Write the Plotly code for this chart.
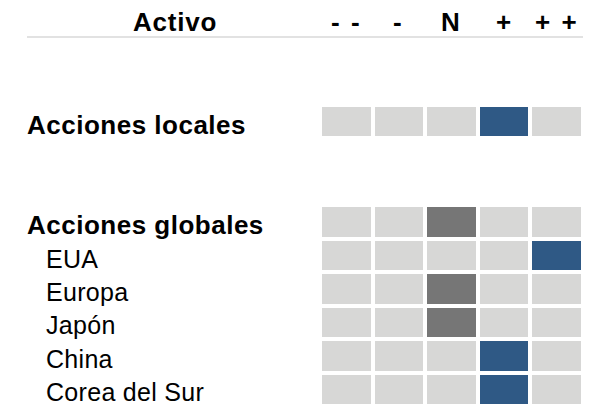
import plotly.graph_objects as go

# ---------------- data ----------------
columns = ["- -", "-", "N", "+", "+ +"]
column_views = [-2, -1, 0, 1, 2]
header_label = "Activo"
assets = ["Acciones locales", "Acciones globales", "EUA", "Europa", "Japón", "China", "Corea del Sur"]
asset_views = [1, 0, 2, 0, 0, 1, 1]          # -2 .. 2
is_group = [True, True, False, False, False, False, False]

# ---------------- styling ----------------
OFF = 8                      # page body margin of the html page
W, H = 595 - OFF, 406 - OFF
ML, MR, MT, MB = 320 - OFF, 12, 105 - OFF, 0
PW, PH = W - ML - MR, H - MT - MB
GREY, DARK, BLUE = "#d7d7d6", "#767676", "#2f5985"
FONT = "Liberation Sans, Arial, sans-serif"


def px_x(p):
    return (p - OFF - ML) / PW


def px_y(p):
    return (H - MB - (p - OFF)) / PH


# build row layout: two empty rows before every group header (except the first)
row_pos = []
r = 0
for i, g in enumerate(is_group):
    if g and i > 0:
        r += 2
    row_pos.append(r)
    r += 1
n_rows = r

z = [[None] * len(columns) for _ in range(n_rows)]
for pos, v in zip(row_pos, asset_views):
    for j, cv in enumerate(column_views):
        if cv == v:
            z[pos][j] = 1 if v == 0 else 2
        else:
            z[pos][j] = 0

fig = go.Figure(go.Heatmap(
    z=z,
    x=list(range(len(columns))),
    y=list(range(n_rows)),
    zmin=0, zmax=2,
    colorscale=[[0, GREY], [0.5, DARK], [1, BLUE]],
    showscale=False,
    xgap=4, ygap=4,
    hoverinfo="skip",
))

annotations = []
for name, pos, g in zip(assets, row_pos, is_group):
    if g:
        txt = f'<b><span style="letter-spacing:0.5px">{name}</span></b>'
        size, xp = 26, 25
    else:
        txt = f'<span style="letter-spacing:0.3px">{name}</span>'
        size, xp = 25, 44
    annotations.append(dict(
        x=px_x(xp), xref="paper", y=pos, yref="y", text=txt,
        showarrow=False, xanchor="left", yanchor="middle", yshift=-3,
        font=dict(family=FONT, size=size, color="#000000"),
    ))

annotations.append(dict(
    x=px_x(175), xref="paper", y=px_y(22), yref="paper",
    text=f'<b><span style="letter-spacing:0.8px">{header_label}</span></b>',
    showarrow=False, xanchor="center", yanchor="middle",
    font=dict(family=FONT, size=26, color="#000000"),
))
for j, c in enumerate(columns):
    annotations.append(dict(
        x=j, xref="x", y=px_y(22), yref="paper",
        text=f'<b><span style="letter-spacing:2px">{c}</span></b>',
        showarrow=False, xanchor="center", yanchor="middle",
        font=dict(family=FONT, size=26, color="#000000"),
    ))

fig.update_layout(
    width=W, height=H,
    margin=dict(l=ML, r=MR, t=MT, b=MB, pad=0),
    paper_bgcolor="white", plot_bgcolor="white",
    xaxis=dict(range=[-0.5, len(columns) - 0.5], visible=False, fixedrange=True),
    yaxis=dict(range=[n_rows - 0.5, -0.5], visible=False, fixedrange=True),
    annotations=annotations,
    shapes=[dict(type="line", xref="paper", yref="paper",
                 x0=px_x(27), x1=px_x(583), y0=px_y(37), y1=px_y(37),
                 line=dict(color="#e2e2e2", width=2))],
    showlegend=False,
)

fig.write_html("out.html")
